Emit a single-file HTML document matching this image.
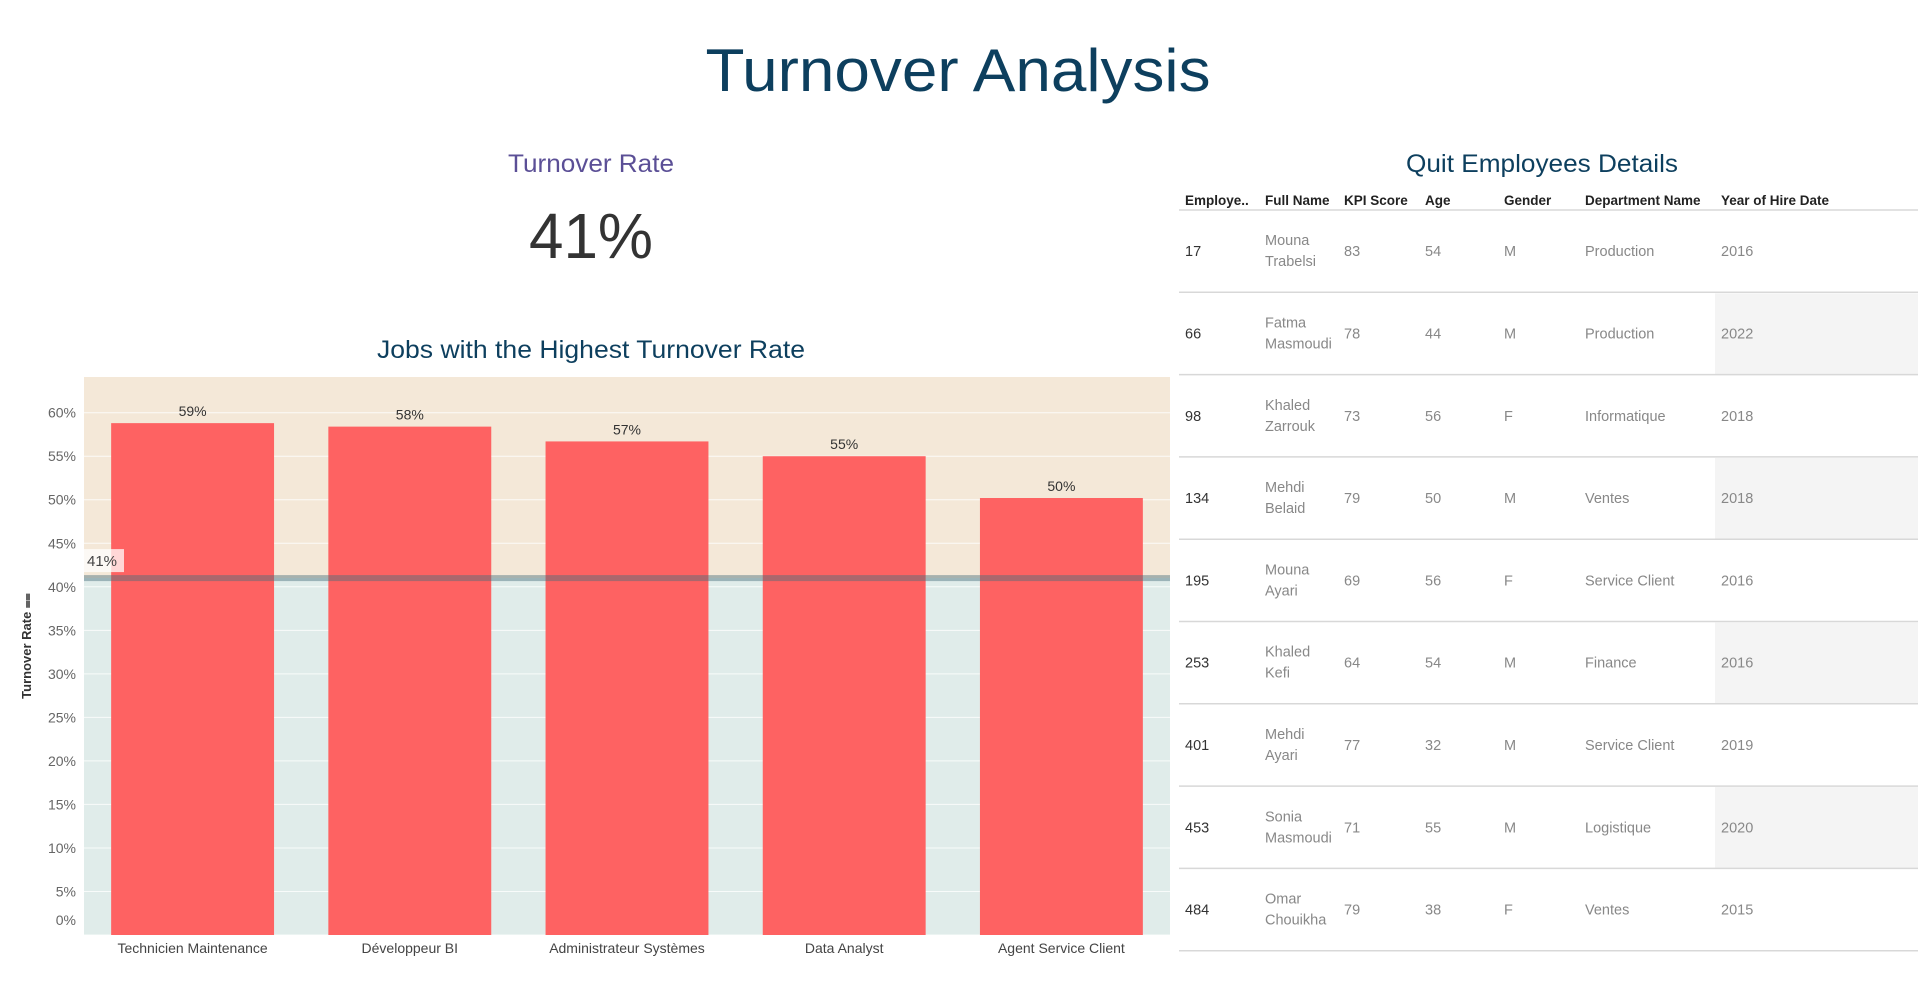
<!DOCTYPE html>
<html><head><meta charset="utf-8"><style>
html,body{margin:0;padding:0;background:#fff;}
svg{display:block;font-family:"Liberation Sans",sans-serif;}
</style></head><body>
<svg id="root" width="1918" height="981" viewBox="0 0 1918 981">
<text x="958" y="91" font-size="60" fill="#0d3f5e" text-anchor="middle" textLength="505" lengthAdjust="spacingAndGlyphs">Turnover Analysis</text>
<text x="591" y="172" font-size="25" fill="#5b4f96" text-anchor="middle" textLength="166" lengthAdjust="spacingAndGlyphs">Turnover Rate</text>
<text x="591" y="258" font-size="64" fill="#333" text-anchor="middle" textLength="124" lengthAdjust="spacingAndGlyphs">41%</text>
<text x="591" y="358" font-size="25" fill="#0d3f5e" text-anchor="middle" textLength="428" lengthAdjust="spacingAndGlyphs">Jobs with the Highest Turnover Rate</text>
<text x="1542" y="172" font-size="25" fill="#0d3f5e" text-anchor="middle" textLength="272" lengthAdjust="spacingAndGlyphs">Quit Employees Details</text>
<g id="chart"></g>
<g id="table"></g>
</svg>
<script>
const categories = ["Technicien Maintenance","Développeur BI","Administrateur Systèmes","Data Analyst","Agent Service Client"];
const values = [58.8, 58.4, 56.7, 55.0, 50.2];
const valueLabels = ["59%","58%","57%","55%","50%"];
const avgValue = 41;
const avgLabel = "41%";
const ticks = [0,5,10,15,20,25,30,35,40,45,50,55,60];

const NS="http://www.w3.org/2000/svg";
function mk(tag, attrs, parent, text){const e=document.createElementNS(NS,tag);for(const k in attrs)e.setAttribute(k,attrs[k]);if(text!==undefined)e.textContent=text;parent.appendChild(e);return e;}
const chart=document.getElementById('chart');
const L=84,R=1170,T=377,B=935;
const yS=v=>B-(v/64.1)*(B-T);
const band=(R-L)/categories.length;
const xS=i=>L+band*i;

let r=mk('rect',{x:L,y:T,width:R-L,height:yS(avgValue)-T,fill:'#f4e8d8'},chart);


r=mk('rect',{x:L,y:yS(avgValue),width:R-L,height:B-yS(avgValue),fill:'#e0ecea'},chart);



ticks.forEach(t=>{
  const y=yS(t);
  const g=mk('line',{x1:L,x2:R,y1:y,y2:y,stroke:'#ffffff','stroke-width':1,opacity:0.8},chart);
  
  
  const ly = t===0 ? y-10 : y+5;
  const tl=mk('text',{x:76,y:ly,'font-size':14,fill:'#666','text-anchor':'end'},chart,t+'%');
  
  
});

categories.forEach((c,i)=>{
  const w=band*0.75, x=xS(i)+(band-w)/2, y=yS(values[i]);
  const b=mk('rect',{x:x,y:y,width:w,height:B-y,fill:'#fe6262'},chart);
  
  
  const vl=mk('text',{x:xS(i)+band/2,y:y-7,'font-size':14,fill:'#333','text-anchor':'middle'},chart,valueLabels[i]);
  
  
  const xl=mk('text',{x:xS(i)+band/2,y:953,'font-size':14,fill:'#444','text-anchor':'middle'},chart,c);
  
  
});

const ay=yS(avgValue);
const al=mk('rect',{x:L,y:ay-3,width:R-L,height:6,fill:'rgba(70,110,125,0.45)'},chart);


const lb=mk('rect',{x:L,y:ay-29,width:40,height:23,fill:'rgba(255,255,255,0.75)'},chart);


const lt=mk('text',{x:L+3,y:ay-12,'font-size':15,fill:'#444'},chart,avgLabel);



const yt=mk('text',{x:0,y:0,'font-size':13,'font-weight':'bold',fill:'#333','text-anchor':'middle',transform:'translate(31,646) rotate(-90)'},chart,'Turnover Rate ⩵');



// table
const tbl=document.getElementById('table');
const colX=[1185,1265,1344,1425,1504,1585,1721];
const headers=["Employe..","Full Name","KPI Score","Age","Gender","Department Name","Year of Hire Date"];
const rows=[
["17","Mouna","Trabelsi","83","54","M","Production","2016"],
["66","Fatma","Masmoudi","78","44","M","Production","2022"],
["98","Khaled","Zarrouk","73","56","F","Informatique","2018"],
["134","Mehdi","Belaid","79","50","M","Ventes","2018"],
["195","Mouna","Ayari","69","56","F","Service Client","2016"],
["253","Khaled","Kefi","64","54","M","Finance","2016"],
["401","Mehdi","Ayari","77","32","M","Service Client","2019"],
["453","Sonia","Masmoudi","71","55","M","Logistique","2020"],
["484","Omar","Chouikha","79","38","F","Ventes","2015"]];
headers.forEach((h,i)=>{
  const t=mk('text',{x:colX[i],y:205,'font-size':13.5,'font-weight':'bold',fill:'#222'},tbl,h);
  
  
});
mk('line',{x1:1179,x2:1918,y1:210,y2:210,stroke:'#d8d8d8','stroke-width':1.5},tbl);
const rowH=82.3, top0=210;
rows.forEach((rw,i)=>{
  const y0=top0+rowH*i, cy=y0+rowH/2;
  if(i%2===1){
    const s=mk('rect',{x:1715,y:y0+1,width:203,height:rowH-1,fill:'#f4f4f4'},tbl);
    
    
  }
  const sep=mk('line',{x1:1179,x2:1918,y1:y0+rowH,y2:y0+rowH,stroke:'#d8d8d8','stroke-width':1.5},tbl);
  
  
  const id=mk('text',{x:colX[0],y:cy+5,'font-size':14.5,fill:'#333'},tbl,rw[0]);
  
  
  const n1=mk('text',{x:colX[1],y:cy-6,'font-size':14.5,fill:'#888'},tbl,rw[1]);
  
  
  const n2=mk('text',{x:colX[1],y:cy+15,'font-size':14.5,fill:'#888'},tbl,rw[2]);
  
  
  [3,4,5,6,7].forEach((k,j)=>{
    const t=mk('text',{x:colX[j+2],y:cy+5,'font-size':14.5,fill:'#888'},tbl,rw[k]);
    
    
  });
});
</script>
</body></html>
